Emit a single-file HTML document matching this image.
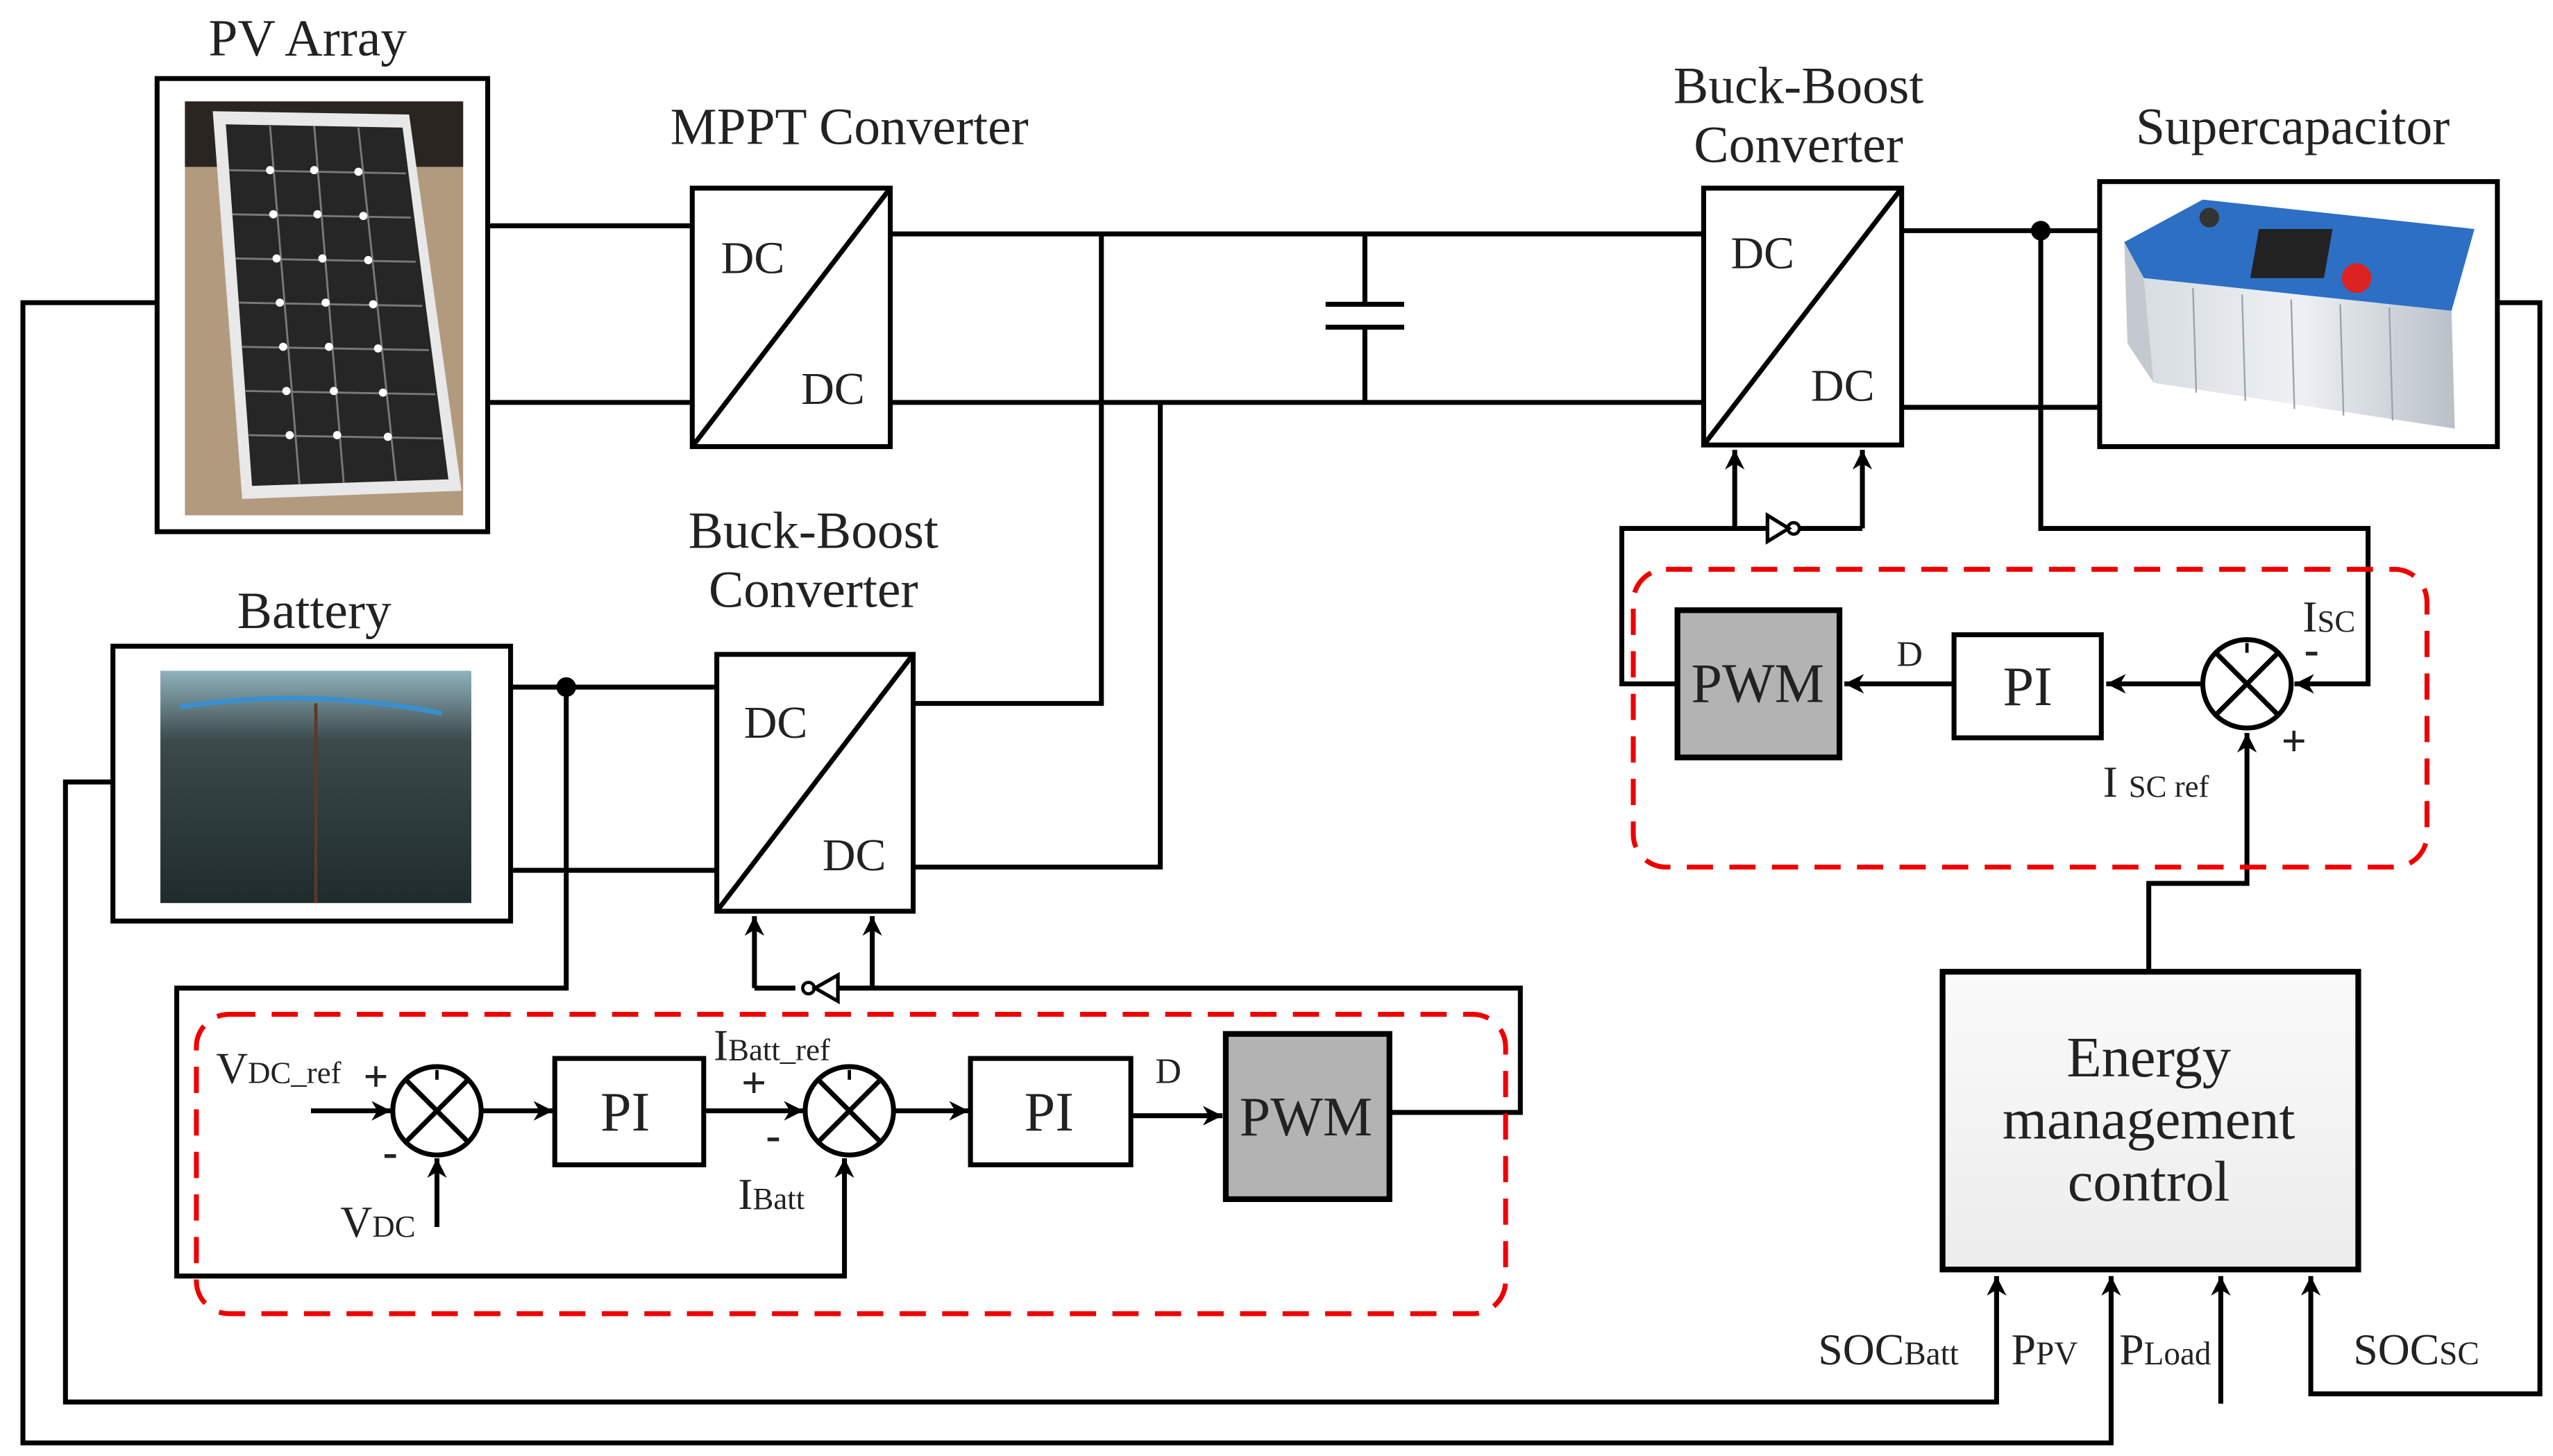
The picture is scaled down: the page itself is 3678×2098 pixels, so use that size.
<!DOCTYPE html>
<html><head><meta charset="utf-8"><style>
html,body{margin:0;padding:0;background:#fff;}
svg{display:block;}
text{font-family:"Liberation Serif",serif;fill:#222;}
</style></head><body>
<svg width="3678" height="2098" viewBox="0 0 1560 890" preserveAspectRatio="none" xmlns="http://www.w3.org/2000/svg">
<defs>
<marker id="ar" viewBox="0 0 10 10" refX="10" refY="5" markerWidth="4" markerHeight="4" orient="auto"><path d="M0,0 L10,5 L0,10 L3,5 z" fill="#000"/></marker>
<linearGradient id="emc" x1="0" y1="0" x2="0" y2="1"><stop offset="0" stop-color="#fafafa"/><stop offset="1" stop-color="#ececec"/></linearGradient>
<linearGradient id="sc" x1="0" y1="0" x2="1" y2="0"><stop offset="0" stop-color="#d8dde2"/><stop offset="0.5" stop-color="#eef1f4"/><stop offset="1" stop-color="#b9c0c8"/></linearGradient>
<linearGradient id="bat" x1="0" y1="0" x2="0" y2="1"><stop offset="0" stop-color="#8fb3bd"/><stop offset="0.3" stop-color="#3c4a4c"/><stop offset="1" stop-color="#1f2b2c"/></linearGradient>
</defs>
<g fill="none" stroke="#000" stroke-width="3">
<rect x="96" y="48" width="202" height="277"/>
</g>
<rect x="113" y="62" width="170" height="253" fill="#b29a7f"/>
<rect x="113" y="62" width="170" height="40" fill="#2a2520"/>
<polygon points="130,68 250,70 282,300 148,305" fill="#e8e8e8"/>
<polygon points="138,76 246,78 274,293 154,297" fill="#262626"/>
<g stroke="#7a7a7a" stroke-width="1.2">
<line x1="165" y1="77" x2="183" y2="296"/><line x1="192" y1="77" x2="210" y2="295"/><line x1="219" y1="78" x2="242" y2="294"/>
<line x1="140" y1="104" x2="248" y2="106"/><line x1="142" y1="131" x2="251" y2="133"/><line x1="144" y1="158" x2="254" y2="160"/><line x1="146" y1="185" x2="258" y2="187"/><line x1="148" y1="212" x2="262" y2="214"/><line x1="150" y1="239" x2="266" y2="241"/><line x1="152" y1="266" x2="270" y2="268"/>
</g>
<g fill="#fff">
<circle cx="165" cy="104" r="2.5"/><circle cx="192" cy="104" r="2.5"/><circle cx="219" cy="105" r="2.5"/>
<circle cx="167" cy="131" r="2.5"/><circle cx="194" cy="131" r="2.5"/><circle cx="222" cy="132" r="2.5"/>
<circle cx="169" cy="158" r="2.5"/><circle cx="197" cy="158" r="2.5"/><circle cx="225" cy="159" r="2.5"/>
<circle cx="171" cy="185" r="2.5"/><circle cx="199" cy="185" r="2.5"/><circle cx="228" cy="186" r="2.5"/>
<circle cx="173" cy="212" r="2.5"/><circle cx="201" cy="212" r="2.5"/><circle cx="231" cy="213" r="2.5"/>
<circle cx="175" cy="239" r="2.5"/><circle cx="204" cy="239" r="2.5"/><circle cx="234" cy="240" r="2.5"/>
<circle cx="177" cy="266" r="2.5"/><circle cx="206" cy="266" r="2.5"/><circle cx="237" cy="267" r="2.5"/>
</g>
<rect x="98" y="410" width="190" height="142" fill="url(#bat)"/>
<path d="M110,432 Q190,420 270,436" stroke="#3a8fd0" stroke-width="3" fill="none"/>
<line x1="193" y1="430" x2="193" y2="552" stroke="#5a3a2a" stroke-width="2"/>
<polygon points="1298,148 1346,122 1512,140 1498,190 1310,170" fill="#2d6fc4"/>
<polygon points="1310,170 1498,190 1500,262 1316,234" fill="url(#sc)"/>
<polygon points="1298,148 1310,170 1316,234 1300,210" fill="#c4c9cf"/>
<rect x="1380" y="140" width="45" height="30" fill="#222" transform="skewX(-10) translate(25,0)"/>
<circle cx="1350" cy="133" r="6" fill="#333"/><circle cx="1440" cy="170" r="9" fill="#d22"/>
<g stroke="#9aa3ac" stroke-width="1"><line x1="1340" y1="176" x2="1342" y2="240"/><line x1="1370" y1="180" x2="1372" y2="245"/><line x1="1400" y1="183" x2="1402" y2="250"/><line x1="1430" y1="186" x2="1432" y2="254"/><line x1="1460" y1="188" x2="1462" y2="257"/></g>

<g fill="none" stroke="#000" stroke-width="3">
<rect x="69" y="395" width="243" height="168"/>
<rect x="1283" y="111" width="243" height="162"/>
<rect x="423" y="115" width="121" height="158"/><line x1="423" y1="273" x2="544" y2="115"/>
<rect x="1041" y="115" width="121" height="157"/><line x1="1041" y1="272" x2="1162" y2="115"/>
<rect x="438" y="400" width="120" height="157"/><line x1="438" y1="557" x2="558" y2="400"/>
<line x1="298" y1="138" x2="423" y2="138"/><line x1="298" y1="246" x2="423" y2="246"/>
<line x1="544" y1="143" x2="1041" y2="143"/><line x1="544" y1="246" x2="1041" y2="246"/>
<polyline points="673,143 673,430 558,430"/><polyline points="709,246 709,530 558,530"/>
<line x1="834" y1="143" x2="834" y2="186"/><line x1="834" y1="200" x2="834" y2="246"/>
<line x1="810" y1="186" x2="858" y2="186"/><line x1="810" y1="200" x2="858" y2="200"/>
<line x1="1162" y1="141" x2="1283" y2="141"/><line x1="1162" y1="249" x2="1283" y2="249"/>
<line x1="312" y1="420" x2="438" y2="420"/><line x1="312" y1="532" x2="438" y2="532"/>
<polyline points="96,185 14,185 14,882 1290,882 1290,780" marker-end="url(#ar)"/>
<polyline points="69,478 40,478 40,857 1220,857 1220,780" marker-end="url(#ar)"/>
<polyline points="1526,185 1552,185 1552,852 1412,852 1412,780" marker-end="url(#ar)"/>
<line x1="1357" y1="858" x2="1357" y2="780" marker-end="url(#ar)"/>
<polyline points="1247,141 1247,323 1447,323 1447,418 1402,418" marker-end="url(#ar)"/>
<line x1="1060" y1="323" x2="1060" y2="275" marker-end="url(#ar)"/>
<line x1="1138" y1="323" x2="1138" y2="275" marker-end="url(#ar)"/>
<polyline points="1025,418 991,418 991,323 1080,323"/><line x1="1100" y1="323" x2="1138" y2="323"/>
<polygon points="1080,315 1080,331 1093,323" stroke-width="2.2"/><circle cx="1096" cy="323" r="3.5" stroke-width="2"/>
<line x1="1345" y1="418" x2="1287" y2="418" marker-end="url(#ar)"/>
<line x1="1194" y1="418" x2="1127" y2="418" marker-end="url(#ar)"/>
<rect x="1194" y="388" width="90" height="63"/>
<circle cx="1373" cy="418" r="27"/><line x1="1354" y1="399" x2="1392" y2="437"/><line x1="1392" y1="399" x2="1354" y2="437"/>
<polyline points="1313,594 1313,540 1373,540 1373,448" marker-end="url(#ar)"/>
<polyline points="346,420 346,604 108,604 108,780 516,780 516,708" marker-end="url(#ar)"/>
<line x1="461" y1="604" x2="461" y2="560" marker-end="url(#ar)"/>
<line x1="533" y1="604" x2="533" y2="560" marker-end="url(#ar)"/>
<line x1="461" y1="604" x2="486" y2="604"/><polyline points="512,604 929,604 929,680 849,680"/>
<polygon points="512,596 512,612 498,604" stroke-width="2.2"/><circle cx="494" cy="604" r="3.5" stroke-width="2"/>
<line x1="190" y1="679" x2="239" y2="679" marker-end="url(#ar)"/>
<circle cx="267" cy="679" r="27"/><line x1="248" y1="660" x2="286" y2="698"/><line x1="286" y1="660" x2="248" y2="698"/>
<line x1="267" y1="750" x2="267" y2="708" marker-end="url(#ar)"/>
<line x1="294" y1="679" x2="338" y2="679" marker-end="url(#ar)"/>
<rect x="339" y="647" width="91" height="65"/>
<line x1="430" y1="679" x2="491" y2="679" marker-end="url(#ar)"/>
<circle cx="519" cy="679" r="27"/><line x1="500" y1="660" x2="538" y2="698"/><line x1="538" y1="660" x2="500" y2="698"/>
<line x1="546" y1="679" x2="592" y2="679" marker-end="url(#ar)"/>
<rect x="593" y="647" width="98" height="65"/>
<line x1="691" y1="682" x2="747" y2="682" marker-end="url(#ar)"/>
</g>
<g stroke="#000" stroke-width="2"><line x1="267" y1="654" x2="267" y2="660"/><line x1="519" y1="654" x2="519" y2="660"/><line x1="1373" y1="393" x2="1373" y2="399"/></g>
<circle cx="346" cy="420" r="6" fill="#000"/><circle cx="1247" cy="141" r="6" fill="#000"/>
<rect x="1025" y="373" width="99" height="90" fill="#b3b3b3" stroke="#000" stroke-width="3.5"/>
<rect x="749" y="632" width="100" height="101" fill="#b3b3b3" stroke="#000" stroke-width="3.5"/>
<rect x="1187" y="594" width="254" height="182" fill="url(#emc)" stroke="#000" stroke-width="3.5"/>
<rect x="998" y="348" width="485" height="182" rx="20" fill="none" stroke="#e00" stroke-width="3" stroke-dasharray="16,10"/>
<rect x="120" y="620" width="800" height="183" rx="20" fill="none" stroke="#e00" stroke-width="3" stroke-dasharray="16,10"/>
<g font-size="32" text-anchor="middle">
<text x="188" y="34">PV Array</text>
<text x="519" y="88">MPPT Converter</text>
<text x="1099" y="63">Buck-Boost</text><text x="1099" y="99">Converter</text>
<text x="1401" y="88">Supercapacitor</text>
<text x="192" y="384">Battery</text>
<text x="497" y="335">Buck-Boost</text><text x="497" y="371">Converter</text>
</g>
<g font-size="28" text-anchor="middle">
<text x="460" y="167">DC</text><text x="509" y="247">DC</text>
<text x="1077" y="164">DC</text><text x="1126" y="245">DC</text>
<text x="474" y="451">DC</text><text x="522" y="532">DC</text>
</g>
<g font-size="34" text-anchor="middle">
<text x="1074" y="429">PWM</text><text x="1239" y="431">PI</text>
<text x="798" y="694">PWM</text><text x="382" y="691">PI</text><text x="641" y="691">PI</text>
</g>
<g font-size="35" text-anchor="middle">
<text x="1313" y="658">Energy</text><text x="1313" y="696">management</text><text x="1313" y="734">control</text>
</g>
<g font-size="27">
<text x="1159" y="407" font-size="22">D</text>
<text x="706" y="662" font-size="22">D</text>
<text x="1407" y="386">I<tspan font-size="19">SC</tspan></text>
<text x="1408" y="406" font-weight="bold">-</text><text x="1394" y="462" font-weight="bold">+</text>
<text x="1285" y="487">I <tspan font-size="19">SC  ref</tspan></text>
<text x="132" y="662">V<tspan font-size="19">DC_ref</tspan></text>
<text x="222" y="667" font-weight="bold">+</text><text x="234" y="713" font-weight="bold">-</text>
<text x="208" y="756">V<tspan font-size="19">DC</tspan></text>
<text x="436" y="648">I<tspan font-size="19">Batt_ref</tspan></text>
<text x="453" y="671" font-weight="bold">+</text><text x="468" y="703" font-weight="bold">-</text>
<text x="451" y="739">I<tspan font-size="19">Batt</tspan></text>
<text x="1111" y="834">SOC<tspan font-size="20">Batt</tspan></text>
<text x="1229" y="834">P<tspan font-size="20">PV</tspan></text>
<text x="1295" y="834">P<tspan font-size="20">Load</tspan></text>
<text x="1438" y="834">SOC<tspan font-size="20">SC</tspan></text>
</g>
</svg>
</body></html>
